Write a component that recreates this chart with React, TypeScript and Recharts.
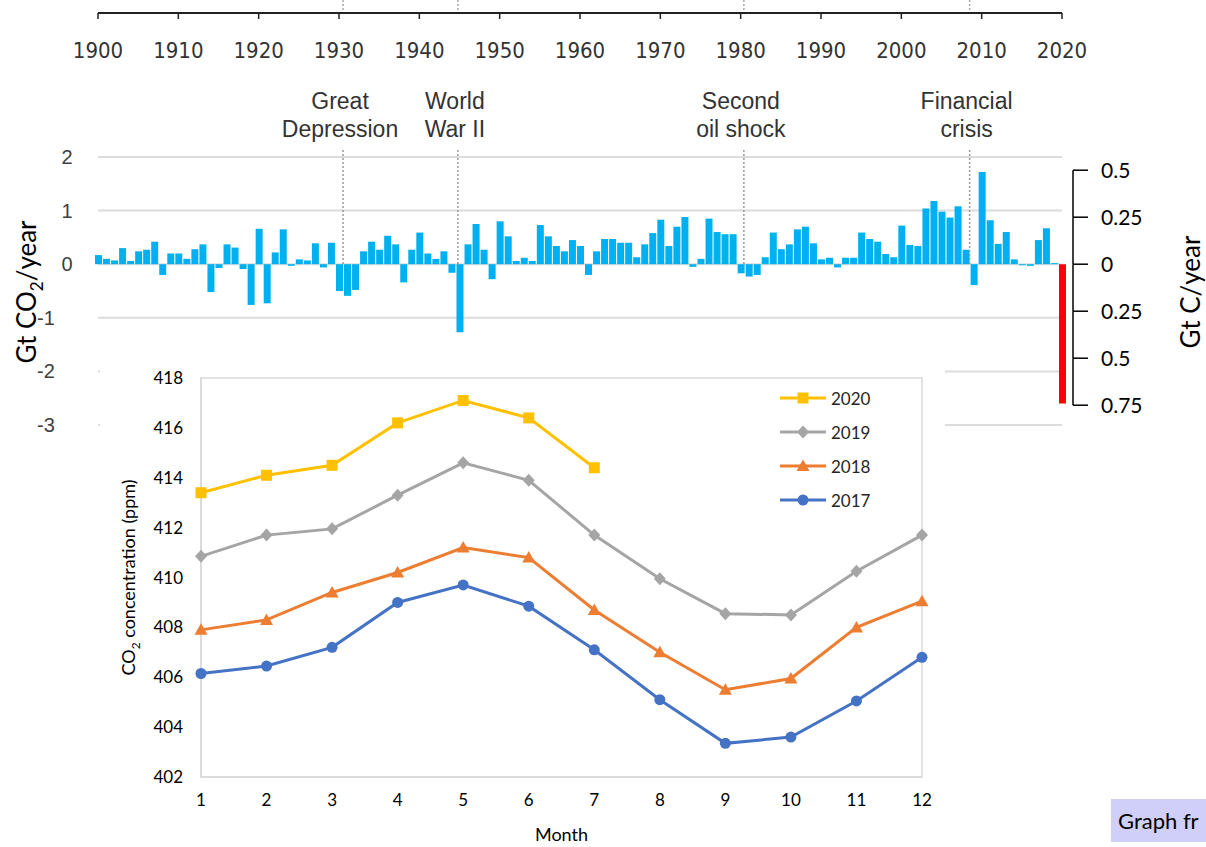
import React from "react";
import {
  ComposedChart,
  Bar,
  Cell,
  XAxis,
  YAxis,
  CartesianGrid,
  ReferenceLine,
  LineChart,
  Line,
  Legend,
  ReferenceArea,
} from "recharts";

// ---------- Annual change in fossil CO2 emissions (Gt CO2 / year) ----------
const FIRST_YEAR = 1900;
const emissionChanges: number[] = [
  // 1900-1909
  0.17, 0.1, 0.07, 0.3, 0.06, 0.24, 0.27, 0.42, -0.2, 0.2,
  // 1910-1919
  0.2, 0.1, 0.28, 0.37, -0.52, -0.07, 0.37, 0.31, -0.09, -0.76,
  // 1920-1929
  0.66, -0.73, 0.22, 0.65, -0.03, 0.09, 0.07, 0.39, -0.06, 0.4,
  // 1930-1939
  -0.5, -0.59, -0.48, 0.24, 0.42, 0.27, 0.53, 0.37, -0.34, 0.27,
  // 1940-1949
  0.59, 0.2, 0.1, 0.24, -0.16, -1.27, 0.37, 0.75, 0.27, -0.28,
  // 1950-1959
  0.8, 0.52, 0.06, 0.12, 0.06, 0.73, 0.52, 0.34, 0.24, 0.45,
  // 1960-1969
  0.34, -0.2, 0.24, 0.47, 0.47, 0.4, 0.4, 0.13, 0.37, 0.58,
  // 1970-1979
  0.83, 0.34, 0.7, 0.88, -0.05, 0.1, 0.85, 0.6, 0.56, 0.56,
  // 1980-1989
  -0.17, -0.23, -0.2, 0.13, 0.59, 0.28, 0.37, 0.65, 0.7, 0.39,
  // 1990-1999
  0.09, 0.12, -0.06, 0.12, 0.12, 0.59, 0.47, 0.42, 0.19, 0.13,
  // 2000-2009
  0.72, 0.36, 0.34, 1.04, 1.18, 0.98, 0.87, 1.08, 0.27, -0.39,
  // 2010-2019
  1.72, 0.82, 0.38, 0.6, 0.09, -0.02, -0.03, 0.45, 0.67, 0.02,
  // 2020 (projected drop)
  -2.6,
];
const HIGHLIGHT_YEAR = 2020;

const yearTicks = [1900, 1910, 1920, 1930, 1940, 1950, 1960, 1970, 1980, 1990, 2000, 2010, 2020];
const gtCO2Ticks = [-3, -2, -1, 0, 1, 2];
const gtCTicks = [-0.75, -0.5, -0.25, 0, 0.25, 0.5];

const eventYears = [1930.5, 1944.8, 1980.4, 2008.5];
const eventLabels = [
  ["Great", "Depression"],
  ["World", "War II"],
  ["Second", "oil shock"],
  ["Financial", "crisis"],
];
const EVENT_LINE_TOP = 2.13; // Gt CO2 level where the dotted markers start

// ---------- Monthly CO2 concentration (ppm) ----------
const months = [1, 2, 3, 4, 5, 6, 7, 8, 9, 10, 11, 12];
const co2_2017 = [406.15, 406.45, 407.2, 409.0, 409.7, 408.85, 407.1, 405.1, 403.35, 403.6, 405.05, 406.8];
const co2_2018 = [407.9, 408.3, 409.4, 410.2, 411.2, 410.8, 408.7, 407.0, 405.5, 405.95, 408.0, 409.05];
const co2_2019 = [410.85, 411.7, 411.95, 413.3, 414.6, 413.9, 411.7, 409.95, 408.55, 408.5, 410.25, 411.7];
const co2_2020 = [413.4, 414.1, 414.5, 416.2, 417.1, 416.4, 414.4];
const co2Ticks = [402, 404, 406, 408, 410, 412, 414, 416, 418];

// ---------- layout ----------
const W = 1206;
const H = 847;
const PLOT_LEFT = 98;
const PLOT_RIGHT = 1062;
const PLOT_TOP = 13;
const PLOT_BOTTOM = 425;
const PX_PER_GTCO2 = 53.6;
const PX_PER_GTC = 188;
const PLOT_H = PLOT_BOTTOM - PLOT_TOP;
const ZERO_Y = PLOT_BOTTOM - 3 * PX_PER_GTCO2;
const LEFT_DOMAIN: [number, number] = [-3, -3 + PLOT_H / PX_PER_GTCO2];
const RIGHT_DOMAIN: [number, number] = [
  -(PLOT_BOTTOM - ZERO_Y) / PX_PER_GTC,
  (ZERO_Y - PLOT_TOP) / PX_PER_GTC,
];
const ABOVE_TOP = LEFT_DOMAIN[1] + PLOT_TOP / PX_PER_GTCO2;

const ARIAL = "'Liberation Sans', Arial, sans-serif";
const NARROW = "'Liberation Sans Narrow', 'Arial Narrow', 'DejaVu Sans Condensed', sans-serif";
const CALIBRI = "Lato, 'Liberation Sans', sans-serif";

const barData = emissionChanges.map((v, i) => ({ year: FIRST_YEAR + i, change: v }));

const lineData = months.map((m, i) => ({
  month: m,
  y2017: co2_2017[i],
  y2018: co2_2018[i],
  y2019: co2_2019[i],
  y2020: i < co2_2020.length ? co2_2020[i] : null,
}));

const seriesStyle: Record<string, { color: string; shape: string }> = {
  y2020: { color: "#FFC000", shape: "square" },
  y2019: { color: "#A5A5A5", shape: "diamond" },
  y2018: { color: "#ED7D31", shape: "triangle" },
  y2017: { color: "#4472C4", shape: "circle" },
};

function Marker({ cx, cy, shape, color }: { cx: number; cy: number; shape: string; color: string }) {
  if (shape === "square") {
    return <rect x={cx - 5.5} y={cy - 5.5} width={11} height={11} fill={color} />;
  }
  if (shape === "diamond") {
    return <polygon points={`${cx},${cy - 6.5} ${cx + 6},${cy} ${cx},${cy + 6.5} ${cx - 6},${cy}`} fill={color} />;
  }
  if (shape === "triangle") {
    return <polygon points={`${cx},${cy - 6.5} ${cx + 6.5},${cy + 5} ${cx - 6.5},${cy + 5}`} fill={color} />;
  }
  return <circle cx={cx} cy={cy} r={5.5} fill={color} />;
}

const makeDot = (key: string) => (props: any) => {
  const { cx, cy, index, value } = props;
  if (cx == null || cy == null || value == null) return <g key={`${key}-${index}`} />;
  const s = seriesStyle[key];
  return (
    <g key={`${key}-${index}`}>
      <Marker cx={cx} cy={cy} shape={s.shape} color={s.color} />
    </g>
  );
};

function TopTick(props: any) {
  const { x, y, payload } = props;
  return (
    <g>
      <line x1={x} y1={y} x2={x} y2={y + 6} stroke="#222" strokeWidth={1.5} />
      <text
        x={x}
        y={y + 37}
        textAnchor="middle"
        dominantBaseline="central"
        fontSize={22}
        fontFamily={NARROW}
        fill="#333"
      >
        {payload.value}
      </text>
    </g>
  );
}

function LeftTick(props: any) {
  const { x, y, payload } = props;
  const v = payload.value as number;
  const tx = v < 0 ? x - 52 : x - 31;
  return (
    <text x={tx} y={y} dy="0.35em" textAnchor="middle" fontSize={20} fontFamily={ARIAL} fill="#404040">
      {v}
    </text>
  );
}

function RightTick(props: any) {
  const { x, y, payload } = props;
  const v = payload.value as number;
  const lx = x + 11;
  const isTop = v === gtCTicks[gtCTicks.length - 1];
  return (
    <g>
      <line x1={lx} y1={y} x2={lx + 15} y2={y} stroke="#000" strokeWidth={1.5} />
      {!isTop && (
        <line x1={lx} y1={y} x2={lx} y2={y - 0.25 * PX_PER_GTC} stroke="#000" strokeWidth={1.5} />
      )}
      <text x={lx + 28} y={y} dy="0.36em" textAnchor="start" fontSize={21} fontFamily={CALIBRI} fill="#000">
        {Math.abs(v)}
      </text>
    </g>
  );
}

function EventLabel(props: any) {
  const { viewBox, lines } = props;
  if (!viewBox) return null;
  const x = viewBox.x;
  const top = viewBox.y;
  return (
    <g>
      <text x={x - 3} y={top - 49} textAnchor="middle" dominantBaseline="central" fontSize={23} fontFamily={ARIAL} fill="#333">
        {lines[0]}
      </text>
      <text x={x - 3} y={top - 21} textAnchor="middle" dominantBaseline="central" fontSize={23} fontFamily={ARIAL} fill="#333">
        {lines[1]}
      </text>
    </g>
  );
}

function LegendContent(props: any) {
  const payload = [...(props.payload || [])].sort((a: any, b: any) =>
    String(b.value).localeCompare(String(a.value))
  );
  return (
    <div style={{ fontFamily: CALIBRI, fontSize: 17, color: "#262626" }}>
      {payload.map((item: any) => {
        const s = seriesStyle[item.dataKey as string];
        return (
          <div key={item.value} style={{ display: "flex", alignItems: "center", height: 34 }}>
            <svg width={46} height={16} style={{ display: "block" }}>
              <line x1={0} y1={8} x2={46} y2={8} stroke={s.color} strokeWidth={3} />
              <Marker cx={23} cy={8} shape={s.shape} color={s.color} />
            </svg>
            <span style={{ marginLeft: 5 }}>{item.value}</span>
          </div>
        );
      })}
    </div>
  );
}

function InsetYTitle(props: any) {
  const { viewBox } = props;
  if (!viewBox) return null;
  const cx = viewBox.x + 28;
  const cy = viewBox.y + viewBox.height / 2;
  return (
    <text
      x={cx}
      y={cy}
      transform={`rotate(-90 ${cx} ${cy})`}
      textAnchor="middle"
      dominantBaseline="central"
      fontSize={18}
      fontFamily={CALIBRI}
      fill="#000"
    >
      CO<tspan baselineShift="sub" fontSize={12}>2</tspan>
      <tspan> concentration (ppm)</tspan>
    </text>
  );
}

export default function App() {
  return (
    <div style={{ position: "absolute", left: 0, top: 0, width: W, height: H, overflow: "hidden", background: "#fff" }}>
      {/* main bar chart */}
      <div style={{ position: "absolute", left: 0, top: 0 }}>
        <ComposedChart
          width={W}
          height={H}
          data={barData}
          margin={{ top: 0, right: 0, bottom: H - PLOT_BOTTOM, left: 0 }}
        >
          <CartesianGrid
            xAxisId="top"
            yAxisId="left"
            horizontal
            vertical={false}
            stroke="#DCDCDC"
            strokeWidth={2}
          />
          <XAxis
            xAxisId="top"
            dataKey="year"
            type="number"
            orientation="top"
            domain={[1900, 2020]}
            ticks={yearTicks}
            height={PLOT_TOP}
            tickSize={0}
            tickMargin={0}
            tickLine={false}
            axisLine={{ stroke: "#222", strokeWidth: 2 }}
            tick={<TopTick />}
            interval={0}
          />
          <YAxis
            yAxisId="left"
            orientation="left"
            type="number"
            domain={LEFT_DOMAIN}
            ticks={gtCO2Ticks}
            width={PLOT_LEFT}
            axisLine={false}
            tickLine={false}
            tickSize={0}
            tickMargin={0}
            tick={<LeftTick />}
            interval={0}
            allowDataOverflow
          />
          <YAxis
            yAxisId="right"
            orientation="right"
            type="number"
            domain={RIGHT_DOMAIN}
            ticks={gtCTicks}
            width={W - PLOT_RIGHT}
            axisLine={false}
            tickLine={false}
            tickSize={0}
            tickMargin={0}
            tick={<RightTick />}
            interval={0}
            allowDataOverflow
          />
          {eventYears.map((yr, i) => (
            <ReferenceLine
              key={`ev-${i}`}
              xAxisId="top"
              yAxisId="left"
              segment={[
                { x: yr, y: EVENT_LINE_TOP },
                { x: yr, y: 0 },
              ]}
              stroke="#9A9A9A"
              strokeWidth={1.5}
              strokeDasharray="2 2"
              ifOverflow="visible"
              label={<EventLabel lines={eventLabels[i]} />}
            />
          ))}
          {eventYears.map((yr, i) => (
            <ReferenceLine
              key={`ev-top-${i}`}
              xAxisId="top"
              yAxisId="left"
              segment={[
                { x: yr, y: ABOVE_TOP },
                { x: yr, y: LEFT_DOMAIN[1] },
              ]}
              stroke="#AAAAAA"
              strokeWidth={1.5}
              strokeDasharray="2 2"
              ifOverflow="visible"
            />
          ))}
          <Bar
            xAxisId="top"
            yAxisId="left"
            dataKey="change"
            barSize={7}
            isAnimationActive={false}
          >
            {barData.map((d) => (
              <Cell key={`c-${d.year}`} fill={d.year === HIGHLIGHT_YEAR ? "#FF0000" : "#00B0F0"} />
            ))}
          </Bar>
        </ComposedChart>
      </div>

      {/* axis titles of the main chart */}
      <svg
        width={W}
        height={H}
        style={{ position: "absolute", left: 0, top: 0, pointerEvents: "none" }}
      >
        <text
          x={26}
          y={292}
          transform="rotate(-90 26 292)"
          textAnchor="middle"
          dominantBaseline="central"
          fontSize={26}
          fontFamily={CALIBRI}
          fill="#000"
        >
          Gt CO<tspan baselineShift="sub" fontSize={17}>2</tspan>
          <tspan>/year</tspan>
        </text>
        <text
          x={1190}
          y={292}
          transform="rotate(-90 1190 292)"
          textAnchor="middle"
          dominantBaseline="central"
          fontSize={26}
          fontFamily={CALIBRI}
          fill="#000"
        >
          Gt C/year
        </text>
      </svg>

      {/* inset: monthly CO2 concentration */}
      <div style={{ position: "absolute", left: 100, top: 365, width: 845, height: 482, background: "#fff" }}>
        <LineChart width={845} height={482} data={lineData} margin={{ top: 13, right: 23, bottom: 0, left: 0 }}>
          <ReferenceArea
            x1={1}
            x2={12}
            y1={402}
            y2={418}
            fill="none"
            stroke="#D9D9D9"
            strokeWidth={1.5}
            ifOverflow="visible"
          />
          <XAxis
            dataKey="month"
            type="number"
            domain={[1, 12]}
            ticks={months}
            interval={0}
            height={70}
            tickSize={0}
            tickMargin={17}
            axisLine={{ stroke: "#D9D9D9", strokeWidth: 1.5 }}
            tickLine={false}
            tick={{ fontSize: 17, fontFamily: CALIBRI, fill: "#000" }}
            label={{ value: "Month", position: "insideBottom", offset: 6, fontSize: 18, fontFamily: CALIBRI, fill: "#000" }}
          />
          <YAxis
            type="number"
            domain={[402, 418]}
            ticks={co2Ticks}
            interval={0}
            width={101}
            tickSize={0}
            tickMargin={18}
            axisLine={{ stroke: "#D9D9D9", strokeWidth: 1.5 }}
            tickLine={false}
            tick={{ fontSize: 17, fontFamily: CALIBRI, fill: "#000" }}
            label={<InsetYTitle />}
          />
          <Legend
            layout="vertical"
            align="center"
            verticalAlign="middle"
            content={<LegendContent />}
            wrapperStyle={{ position: "absolute", left: 680, top: 16, width: 120, height: 140 }}
          />
          <Line
            type="linear"
            dataKey="y2017"
            name="2017"
            stroke="#4472C4"
            strokeWidth={3}
            dot={makeDot("y2017")}
            isAnimationActive={false}
          />
          <Line
            type="linear"
            dataKey="y2018"
            name="2018"
            stroke="#ED7D31"
            strokeWidth={3}
            dot={makeDot("y2018")}
            isAnimationActive={false}
          />
          <Line
            type="linear"
            dataKey="y2019"
            name="2019"
            stroke="#A5A5A5"
            strokeWidth={3}
            dot={makeDot("y2019")}
            isAnimationActive={false}
          />
          <Line
            type="linear"
            dataKey="y2020"
            name="2020"
            stroke="#FFC000"
            strokeWidth={3}
            dot={makeDot("y2020")}
            isAnimationActive={false}
          />
        </LineChart>
      </div>

      {/* source tag */}
      <div
        style={{
          position: "absolute",
          left: 1111,
          top: 799,
          width: 95,
          height: 43,
          background: "#CFCFFA",
          overflow: "hidden",
          whiteSpace: "nowrap",
          fontFamily: CALIBRI,
          fontSize: 22,
          lineHeight: "43px",
          paddingLeft: 7,
          boxSizing: "border-box",
          color: "#000",
        }}
      >
        Graph fr
      </div>
    </div>
  );
}
